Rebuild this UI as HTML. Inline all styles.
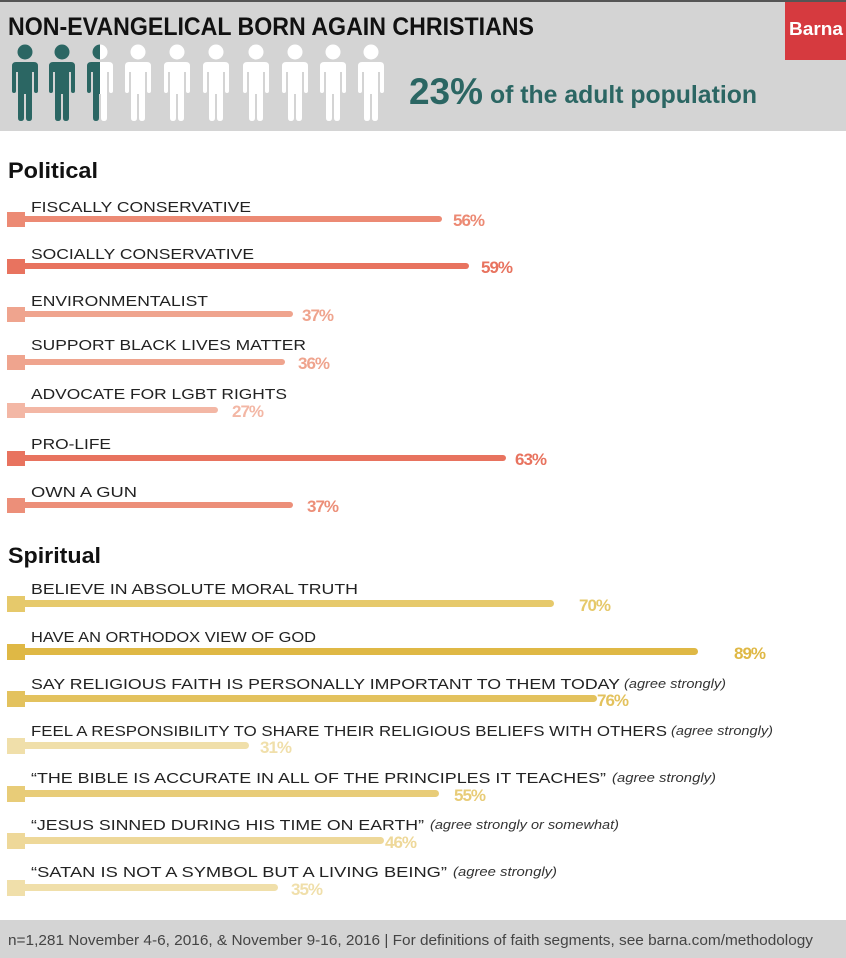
<!DOCTYPE html>
<html><head><meta charset="utf-8"><style>
html,body{margin:0;padding:0;background:#fff;}
svg{display:block;}
text{font-family:"Liberation Sans",sans-serif;}
</style></head><body>
<svg width="846" height="958" viewBox="0 0 846 958" xmlns="http://www.w3.org/2000/svg">
<defs>
<g id="fig">
<circle cx="0" cy="52" r="7.5"/>
<path d="M-9,62 H9 Q13,62 13,66 V91 Q13,93 11,93 Q9,93 9,91 V72 H7 V118 Q7,121 4,121 Q1,121 1,118 V94 H-1 V118 Q-1,121 -4,121 Q-7,121 -7,118 V72 H-9 V91 Q-9,93 -11,93 Q-13,93 -13,91 V66 Q-13,62 -9,62 Z"/>
</g>
<clipPath id="half"><rect x="0" y="0" width="100" height="130"/></clipPath>
</defs>
<rect x="0" y="0" width="846" height="131" fill="#d4d4d4"/>
<rect x="0" y="0" width="846" height="2" fill="#555"/>
<rect x="785" y="2" width="61" height="58" fill="#d63a3f"/>
<text x="789" y="35" font-size="18" font-weight="bold" fill="#fff" textLength="54" lengthAdjust="spacingAndGlyphs">Barna</text>
<text x="8" y="35" font-size="25" font-weight="bold" fill="#111" textLength="526" lengthAdjust="spacingAndGlyphs">NON-EVANGELICAL BORN AGAIN CHRISTIANS</text>
<g fill="#fff">
<use href="#fig" x="100"/><use href="#fig" x="138"/><use href="#fig" x="177"/><use href="#fig" x="216"/><use href="#fig" x="256"/><use href="#fig" x="295"/><use href="#fig" x="333"/><use href="#fig" x="371"/>
</g>
<g fill="#2b6663">
<use href="#fig" x="25"/><use href="#fig" x="62"/>
<g clip-path="url(#half)"><use href="#fig" x="100"/></g>
</g>
<text x="409" y="104" font-size="37" font-weight="bold" fill="#2b6663" textLength="74" lengthAdjust="spacingAndGlyphs">23%</text>
<text x="490" y="103" font-size="25" font-weight="bold" fill="#2b6663" textLength="267" lengthAdjust="spacingAndGlyphs">of the adult population</text>

<text x="8" y="178" font-size="22" font-weight="bold" fill="#111" textLength="90" lengthAdjust="spacingAndGlyphs">Political</text>
<text x="8" y="563" font-size="22" font-weight="bold" fill="#111" textLength="93" lengthAdjust="spacingAndGlyphs">Spiritual</text>

<g font-size="15" fill="#222">
<text x="31" y="212" textLength="220" lengthAdjust="spacingAndGlyphs">FISCALLY CONSERVATIVE</text>
<text x="31" y="259" textLength="223" lengthAdjust="spacingAndGlyphs">SOCIALLY CONSERVATIVE</text>
<text x="31" y="306" textLength="177" lengthAdjust="spacingAndGlyphs">ENVIRONMENTALIST</text>
<text x="31" y="350" textLength="275" lengthAdjust="spacingAndGlyphs">SUPPORT BLACK LIVES MATTER</text>
<text x="31" y="399" textLength="256" lengthAdjust="spacingAndGlyphs">ADVOCATE FOR LGBT RIGHTS</text>
<text x="31" y="449" textLength="80" lengthAdjust="spacingAndGlyphs">PRO-LIFE</text>
<text x="31" y="497" textLength="106" lengthAdjust="spacingAndGlyphs">OWN A GUN</text>
</g>
<g font-size="17" font-weight="bold" letter-spacing="-1">
<g fill="#ec8a74"><rect x="7" y="212" width="18" height="15"/><rect x="20" y="216" width="422" height="6" rx="3"/><text x="453" y="226">56%</text></g>
<g fill="#e8735f"><rect x="7" y="259" width="18" height="15"/><rect x="20" y="263" width="449" height="6" rx="3"/><text x="481" y="273">59%</text></g>
<g fill="#efa48e"><rect x="7" y="307" width="18" height="15"/><rect x="20" y="311" width="273" height="6" rx="3"/><text x="302" y="321">37%</text></g>
<g fill="#efa48e"><rect x="7" y="355" width="18" height="15"/><rect x="20" y="359" width="265" height="6" rx="3"/><text x="298" y="369">36%</text></g>
<g fill="#f3b7a5"><rect x="7" y="403" width="18" height="15"/><rect x="20" y="407" width="198" height="6" rx="3"/><text x="232" y="417">27%</text></g>
<g fill="#e8735f"><rect x="7" y="451" width="18" height="15"/><rect x="20" y="455" width="486" height="6" rx="3"/><text x="515" y="465">63%</text></g>
<g fill="#ec8f79"><rect x="7" y="498" width="18" height="15"/><rect x="20" y="502" width="273" height="6" rx="3"/><text x="307" y="512">37%</text></g>
</g>

<g font-size="15" fill="#222">
<text x="31" y="594" textLength="327" lengthAdjust="spacingAndGlyphs">BELIEVE IN ABSOLUTE MORAL TRUTH</text>
<text x="31" y="642" textLength="285" lengthAdjust="spacingAndGlyphs">HAVE AN ORTHODOX VIEW OF GOD</text>
<text x="31" y="689" textLength="589" lengthAdjust="spacingAndGlyphs">SAY RELIGIOUS FAITH IS PERSONALLY IMPORTANT TO THEM TODAY</text>
<text x="31" y="736" textLength="636" lengthAdjust="spacingAndGlyphs">FEEL A RESPONSIBILITY TO SHARE THEIR RELIGIOUS BELIEFS WITH OTHERS</text>
<text x="31" y="783" textLength="575" lengthAdjust="spacingAndGlyphs">“THE BIBLE IS ACCURATE IN ALL OF THE PRINCIPLES IT TEACHES”</text>
<text x="31" y="830" textLength="393" lengthAdjust="spacingAndGlyphs">“JESUS SINNED DURING HIS TIME ON EARTH”</text>
<text x="31" y="877" textLength="416" lengthAdjust="spacingAndGlyphs">“SATAN IS NOT A SYMBOL BUT A LIVING BEING”</text>
</g>
<g font-size="13" font-style="italic" fill="#333">
<text x="624" y="688" textLength="102" lengthAdjust="spacingAndGlyphs">(agree strongly)</text>
<text x="671" y="735" textLength="102" lengthAdjust="spacingAndGlyphs">(agree strongly)</text>
<text x="612" y="782" textLength="104" lengthAdjust="spacingAndGlyphs">(agree strongly)</text>
<text x="430" y="829" textLength="189" lengthAdjust="spacingAndGlyphs">(agree strongly or somewhat)</text>
<text x="453" y="876" textLength="104" lengthAdjust="spacingAndGlyphs">(agree strongly)</text>
</g>
<g font-size="17" font-weight="bold" letter-spacing="-1">
<g fill="#e6c96b"><rect x="7" y="596" width="18" height="16"/><rect x="20" y="600" width="534" height="7" rx="3.5"/><text x="579" y="611">70%</text></g>
<g fill="#dfb845"><rect x="7" y="644" width="18" height="16"/><rect x="20" y="648" width="678" height="7" rx="3.5"/><text x="734" y="659">89%</text></g>
<g fill="#e3c25e"><rect x="7" y="691" width="18" height="16"/><rect x="20" y="695" width="577" height="7" rx="3.5"/><text x="597" y="706">76%</text></g>
<g fill="#f0dfaa"><rect x="7" y="738" width="18" height="16"/><rect x="20" y="742" width="229" height="7" rx="3.5"/><text x="260" y="753">31%</text></g>
<g fill="#e8cc78"><rect x="7" y="786" width="18" height="16"/><rect x="20" y="790" width="419" height="7" rx="3.5"/><text x="454" y="801">55%</text></g>
<g fill="#eed899"><rect x="7" y="833" width="18" height="16"/><rect x="20" y="837" width="364" height="7" rx="3.5"/><text x="385" y="848">46%</text></g>
<g fill="#f0dfaa"><rect x="7" y="880" width="18" height="16"/><rect x="20" y="884" width="258" height="7" rx="3.5"/><text x="291" y="895">35%</text></g>
</g>

<rect x="0" y="920" width="846" height="38" fill="#d4d4d4"/>
<text x="8" y="945" font-size="15" fill="#444" textLength="805" lengthAdjust="spacingAndGlyphs">n=1,281 November 4-6, 2016, &amp; November 9-16, 2016 | For definitions of faith segments, see barna.com/methodology</text>
</svg>
</body></html>
